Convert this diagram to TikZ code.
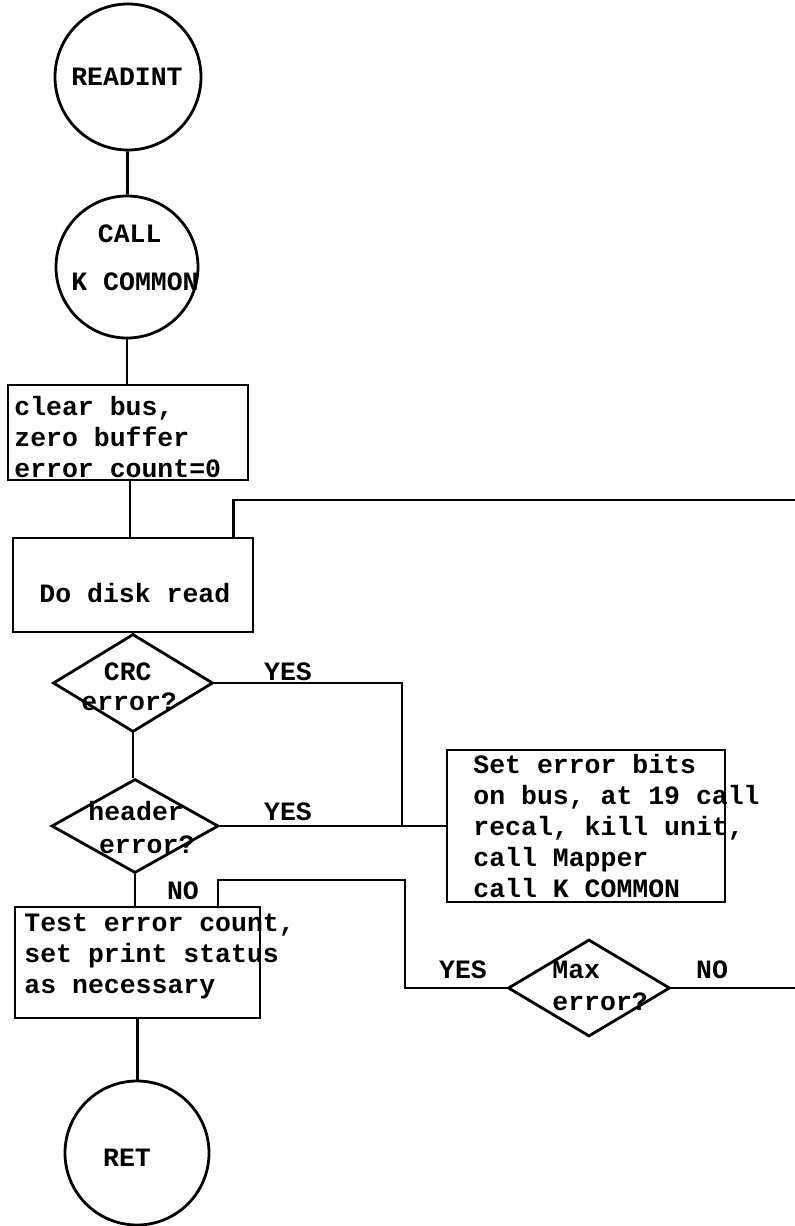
\documentclass[tikz,border=0pt]{standalone}
\usepackage{fontspec}
\setmonofont{Liberation Mono}
\usetikzlibrary{shapes.geometric}
\begin{document}
\begin{tikzpicture}[x=1pt,y=-1pt,
  line width=2.8pt,
  every node/.style={font=\ttfamily\bfseries\fontsize{26.5}{31}\selectfont},
  term/.style={draw,circle,inner sep=0pt,minimum size=#1},
  procbox/.style={draw,rectangle,inner sep=0pt},
  decide/.style={draw,diamond,inner sep=0pt},
  txt/.style={anchor=base west,inner sep=0pt,align=left},
  lbl/.style={inner sep=0pt}]
\useasboundingbox (0,0) rectangle (795,1226);

% terminals and process boxes
\node[term=146pt] (readint) at (128,77) {};
\node[term=142pt] (kcommon) at (127,267) {};
\node[procbox,minimum width=240pt,minimum height=95pt] (clear) at (128,432.5) {};
\node[procbox,minimum width=240pt,minimum height=94pt] (diskread) at (133,585) {};
\node[decide,minimum width=160pt,minimum height=98pt] (crc) at (133,683) {};
\node[decide,minimum width=167pt,minimum height=94pt] (header) at (135,826) {};
\node[procbox,minimum width=278pt,minimum height=152pt] (seterr) at (586,826) {};
\node[procbox,minimum width=245pt,minimum height=111pt] (test) at (137.5,962.5) {};
\node[term=144pt] (ret) at (137,1153) {};
\node[decide,minimum width=162pt,minimum height=97pt] (maxerr) at (589,988) {};

% texts (multi-line blocks are placed by the baseline of their last line)
\node[lbl] (readint-t) at (127,77) {READINT};
\node[txt] (kcommon-t) at (70,290) {\hspace*{1em}CALL\\[17pt]K COMMON};
\node[txt] (clear-t) at (13,477) {clear bus,\\zero buffer\\error count=0};
\node[txt] (diskread-t) at (38,602) {Do disk read};
\node[txt] (crc-t) at (80,710) {\hspace*{0.85em}CRC\\[-1pt]error?};
\node[txt] (header-t) at (87,853) {header\\[2pt]\hspace*{0.4em}error?};
\node[txt] (seterr-t) at (472,897) {Set error bits\\on bus, at 19 call\\recal, kill unit,\\call Mapper\\call K COMMON};
\node[txt] (test-t) at (23,993) {Test error count,\\set print status\\as necessary};
\node[txt] (maxerr-t) at (551,1010) {Max\\[1pt]error?};
\node[lbl] (ret-t) at (127,1158) {RET};

% branch labels
\node[lbl] (crc-yes) at (288,672) {YES};
\node[lbl] (header-yes) at (288,812) {YES};
\node[lbl] (header-no) at (183,891) {NO};
\node[lbl] (max-yes) at (463,970) {YES};
\node[lbl] (max-no) at (712,970) {NO};

% free ends and bends
\coordinate (loopR) at (795,500);
\coordinate (yesjoin) at (402,826);
\coordinate (nobend) at (405,880);
\coordinate (maxR) at (795,988);

% connectors
\draw (readint) -- (kcommon);
\draw (kcommon) -- (kcommon |- clear.north);
\draw ([xshift=2pt]clear.south) -- ([xshift=2pt]clear.south |- diskread.north);
\draw ([xshift=-21pt]diskread.north east) |- (loopR);
\draw (diskread.south) -- (crc.north);
\draw (crc.east) -| (yesjoin);
\draw (crc.south) -- (crc.south |- header.north);
\draw (header.east) -- (seterr.west);
\draw (header.south) -- (header.south |- test.north);
\draw (maxerr.west) -| (nobend) -| ([xshift=80.5pt]test.north);
\draw (maxerr.east) -- (maxR);
\draw (test.south) -- (test.south |- ret.north);
\end{tikzpicture}
\end{document}
